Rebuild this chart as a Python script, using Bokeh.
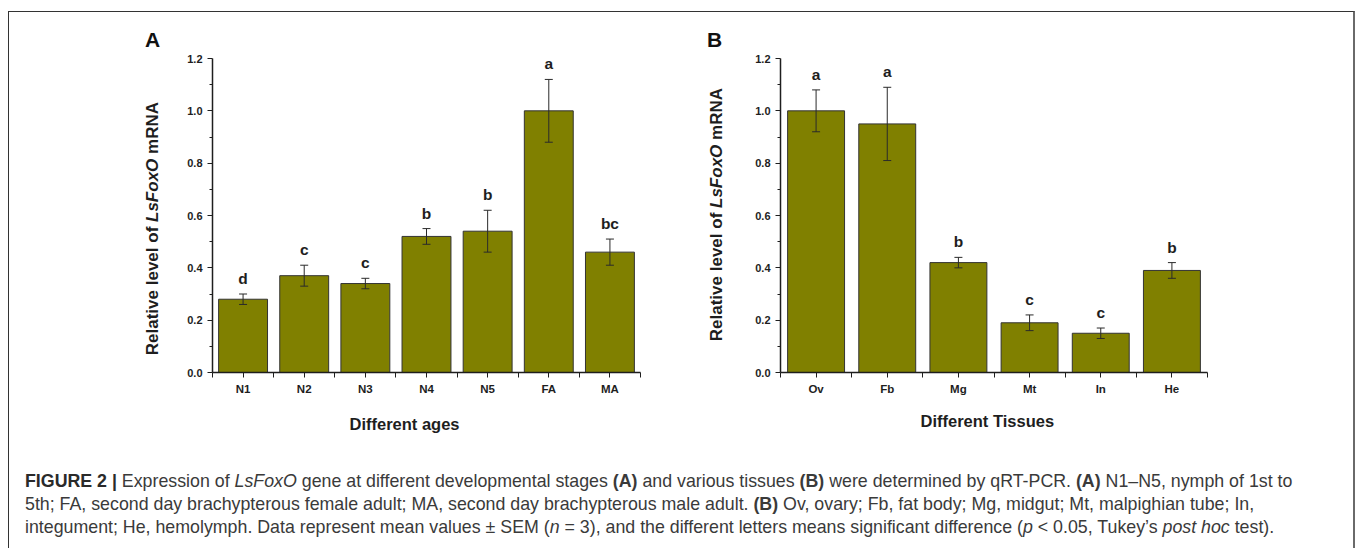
from bokeh.plotting import figure
from bokeh.models import (ColumnDataSource, FixedTicker, Whisker, TeeHead, Title,
                          Div, PrintfTickFormatter, Range1d)
from bokeh.layouts import column, row
from bokeh.embed import file_html
from bokeh.resources import INLINE
from bokeh.core.properties import value

# ---------------- data ----------------
ages = ["N1", "N2", "N3", "N4", "N5", "FA", "MA"]
ages_mean = [0.28, 0.37, 0.34, 0.52, 0.54, 1.00, 0.46]
ages_sem = [0.02, 0.04, 0.02, 0.03, 0.08, 0.12, 0.05]
ages_letters = ["d", "c", "c", "b", "b", "a", "bc"]

tissues = ["Ov", "Fb", "Mg", "Mt", "In", "He"]
tissues_mean = [1.00, 0.95, 0.42, 0.19, 0.15, 0.39]
tissues_sem = [0.08, 0.14, 0.02, 0.03, 0.02, 0.03]
tissues_letters = ["a", "a", "b", "c", "c", "b"]

y_ticks = [0.0, 0.2, 0.4, 0.6, 0.8, 1.0, 1.2]
y_minor = [0.1, 0.3, 0.5, 0.7, 0.9, 1.1]

FONT = "Liberation Sans"
INK = "#1e1e1e"
BAR = "#808000"
FRAME_H = 314
FIG_H = 433
YMAX = 1.2


def make_panel(cats, means, sems, letters, xtitle,
               frame_w, b_left, b_right, xt_off, xt_standoff):
    n = len(cats)
    xs = list(range(n))
    src = ColumnDataSource(dict(
        x=xs, top=means,
        upper=[m + s for m, s in zip(means, sems)],
        lower=[m - s for m, s in zip(means, sems)],
        letter=letters))
    p = figure(frame_width=frame_w, frame_height=FRAME_H,
               min_border_left=b_left, min_border_right=b_right,
               min_border_top=46, min_border_bottom=73,
               x_range=Range1d(-0.5, n - 0.5), y_range=Range1d(0, YMAX),
               output_backend="svg", toolbar_location=None, tools="")
    p.grid.visible = False
    p.outline_line_color = None
    p.background_fill_color = "white"
    p.border_fill_color = "white"

    p.vbar(x="x", top="top", bottom=0, width=0.8, source=src,
           fill_color=BAR, line_color="#333333", line_width=1)

    w = Whisker(base="x", upper="upper", lower="lower", source=src,
                line_color="#2a2a2a", line_width=1, level="overlay",
                upper_head=TeeHead(size=8, line_color="#2a2a2a", line_width=1),
                lower_head=TeeHead(size=8, line_color="#2a2a2a", line_width=1))
    p.add_layout(w)

    p.text(x="x", y="upper", text="letter", source=src,
           text_align="center", text_baseline="bottom", y_offset=-7,
           text_font=value(FONT), text_font_style="bold",
           text_font_size="15.5px", text_color=INK)

    xa = p.xaxis[0]
    xa.ticker = FixedTicker(ticks=xs, minor_ticks=[i - 0.5 for i in range(n + 1)])
    xa.major_label_overrides = {i: c for i, c in enumerate(cats)}
    ya = p.yaxis[0]
    ya.ticker = FixedTicker(ticks=y_ticks, minor_ticks=y_minor)
    ya.formatter = PrintfTickFormatter(format="%.1f")
    for ax in (xa, ya):
        ax.axis_line_color = INK
        ax.axis_line_width = 1.5
        ax.major_tick_line_color = INK
        ax.minor_tick_line_color = INK
        ax.major_tick_line_width = 1
        ax.minor_tick_line_width = 1
        ax.major_tick_in = 0
        ax.minor_tick_in = 0
        ax.major_tick_out = 5
        ax.major_label_text_font = FONT
        ax.major_label_text_font_style = "bold"
        ax.major_label_text_color = INK
        ax.major_label_standoff = 5
    xa.minor_tick_out = 5
    ya.minor_tick_out = 3
    xa.major_label_text_font_size = "11.5px"
    ya.major_label_text_font_size = "11px"

    p.add_layout(Title(text=xtitle, align="left", offset=xt_off, standoff=xt_standoff,
                       text_font=FONT, text_font_style="bold",
                       text_font_size="16.5px", text_color=INK), "below")
    return p


def side_div(width, ylab_left, ylab_top, letter, letter_left):
    html = (
        f'<div style="width:{width}px; height:{FIG_H}px; position:relative;">'
        f'<div style="position:absolute; left:{letter_left}px; top:17px; '
        f'font-family:\'{FONT}\'; font-weight:bold; font-size:21px; line-height:21px; color:#111111;">'
        f'{letter}</div>'
        f'<div style="position:absolute; left:{ylab_left}px; top:{ylab_top}px; '
        'writing-mode:vertical-rl; transform:rotate(180deg); white-space:nowrap; '
        f'font-family:\'{FONT}\'; font-weight:bold; font-size:17px; line-height:20px; color:{INK};">'
        'Relative level of <i>LsFoxO</i> mRNA</div></div>'
    )
    return Div(text=html, width=width, height=FIG_H, margin=(0, 0, 0, 0))


pA = make_panel(ages, ages_mean, ages_sem, ages_letters, "Different ages",
                428, 43, 40, 137, 31)
pB = make_panel(tissues, tissues_mean, tissues_sem, tissues_letters, "Different Tissues",
                427, 40, 146, 140, 25)

sA = side_div(160, 134, 90, "A", 136)
sB = side_div(60, 27, 76, "B", 27)

caption_html = (
    '<div style="padding:22px 0 0 16px; font-family:\'Liberation Sans\'; font-size:17.8px; '
    'line-height:23px; color:#3a3a3a; white-space:nowrap;">'
    '<b style="color:#2a2a2a">FIGURE 2 |</b> Expression of <i>LsFoxO</i> gene at different developmental stages '
    '<b>(A)</b> and various tissues <b>(B)</b> were determined by qRT-PCR. <b>(A)</b> N1&ndash;N5, nymph of 1st to<br>'
    '5th; FA, second day brachypterous female adult; MA, second day brachypterous male adult. '
    '<b>(B)</b> Ov, ovary; Fb, fat body; Mg, midgut; Mt, malpighian tube; In,<br>'
    'integument; He, hemolymph. Data represent mean values &plusmn; SEM (<i>n</i> = 3), and the different '
    'letters means significant difference (<i>p</i> &lt; 0.05, Tukey&rsquo;s <i>post hoc</i> test).'
    '</div>'
)
caption = Div(text=caption_html, width=1344, height=100, margin=(0, 0, 0, 0))

layout = column(row(sA, pA, sB, pB), caption,
                styles={"border-top": "1px solid #333333",
                        "border-left": "1px solid #333333",
                        "border-right": "2px solid #6a6a6a",
                        "margin-top": "11px", "margin-left": "8px"})

open("out.html", "w").write(file_html(layout, INLINE))
